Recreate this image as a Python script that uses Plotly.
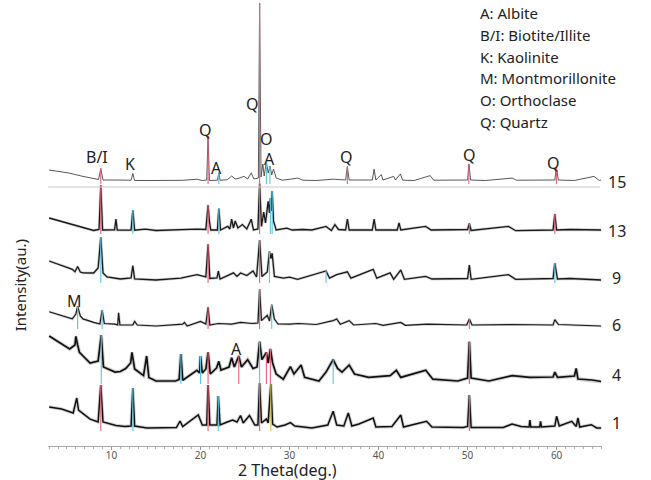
import plotly.graph_objects as go

# ---------------- data (2theta, intensity above own baseline, a.u.) ----------------
sample_names = ["15", "13", "9", "6", "4", "1"]
sample_offsets = [265, 215, 166, 120, 65, 18]

p15 = [(3.0, 11), (4.0, 9.5), (5.2, 8), (6.8, 4.6), (8.0, 2), (8.55, 1.5), (8.8, 12.5), (9.05, 1),
       (10.4, 1), (12.2, 0.8), (12.4, 7.5), (12.6, 0.5), (15, 0.5), (18, 0.7), (19.6, 1.8), (20.2, 0.5),
       (20.7, 1), (20.85, 45), (21.0, 0.5), (21.9, 0.8), (22.06, 8.2), (22.2, 0.8), (23.0, 1.2), (23.5, 5),
       (23.9, 2), (24.2, 2.5), (24.9, 4.6), (25.3, 2), (25.7, 8.2), (26.0, 2), (26.5, 3), (26.64, 178),
       (26.8, 4), (27.0, 17), (27.15, 5), (27.4, 19), (27.6, 8), (27.8, 15), (28.0, 6), (28.2, 12),
       (28.5, 3), (29.2, 0.8), (30.1, 1.8), (30.9, 2.9), (31.5, 0.8), (33, 0.5), (34.9, 1.8), (36.3, 1),
       (36.5, 14.6), (36.7, 1), (39.3, 1), (39.5, 11.8), (39.7, 1), (40.3, 6.4), (40.5, 1), (41.7, 4.6),
       (41.9, 1), (42.45, 7.1), (42.7, 0.8), (44, 0.5), (45.8, 5.4), (46.2, 0.8), (50.0, 1), (50.15, 17),
       (50.35, 1), (52, 0.5), (55, 2.9), (55.5, 0.8), (59.8, 1), (59.98, 13.6), (60.2, 1), (62, 0.5),
       (64.2, 4.6), (64.8, 0.5), (65.0, 1.0)]

p13 = [(3.0, 13), (4.0, 10.5), (4.8, 8.2), (5.6, 6.5), (6.4, 4.6), (7.2, 2.5), (8.0, 0.5), (8.6, 1.5),
       (8.8, 45.7), (9.0, 1), (10.0, 1), (10.35, 1.2), (10.5, 11.8), (10.65, 0.8), (12.2, 1), (12.4, 20.7),
       (12.6, 0.8), (13.8, 1.8), (15, 0.5), (17.8, 1.5), (19.6, 1.8), (20.6, 1.5), (20.85, 26), (21.0, 10),
       (21.15, 1), (21.9, 1), (22.06, 22.5), (22.25, 1), (23.06, 4.6), (23.3, 2), (23.5, 11.8), (23.7, 3),
       (23.9, 10), (24.2, 3), (24.7, 6.4), (25.2, 2), (25.7, 11.8), (25.95, 1), (26.45, 2), (26.64, 47.5),
       (26.85, 4.5), (27.1, 19), (27.3, 8), (27.6, 29.6), (27.75, 18), (27.85, 33), (27.95, 20), (28.05, 40),
       (28.2, 10), (28.5, 1), (29.7, 2.9), (30.3, 1), (31.5, 1.5), (32.5, 1), (34.1, 4.6), (34.7, 0.5),
       (35.1, 6.4), (35.5, 1.5), (36.3, 1), (36.5, 11.8), (36.7, 1), (39.3, 1), (39.5, 11.8), (39.7, 1),
       (42.1, 1), (42.3, 8.2), (42.5, 1), (45.3, 4.6), (45.9, 1), (50.0, 1.5), (50.2, 7.5), (50.4, 0.5),
       (54.6, 4.6), (55.4, 0.3), (59.6, 1), (59.8, 17), (60.0, 1), (61.5, 1.5), (64.5, 1), (65.0, 1)]

p9 = [(3.0, 19), (4.4, 14.3), (5.6, 10.7), (5.9, 8.2), (6.2, 13.5), (6.5, 8), (6.8, 7.1), (8.0, 7),
      (8.5, 12), (8.8, 43), (9.05, 7), (9.5, 3), (10.2, 1.8), (11, 1), (12.2, 2), (12.4, 14.3), (12.6, 1),
      (15, 0), (17.8, 1.8), (19.6, 5.4), (20.6, 3), (20.85, 35.7), (21.05, 1.5), (21.85, 2), (22.0, 9),
      (22.2, 1), (23.7, 7.1), (24.1, 3.6), (24.5, 7), (25.2, 4.5), (25.9, 9), (26.3, 3), (26.64, 40),
      (26.9, 3.6), (27.5, 8), (27.75, 28.6), (27.9, 21.4), (28.05, 26.8), (28.3, 3.6), (29.3, 1.8),
      (30, 2.8), (30.9, 0.7), (34.1, 9), (34.5, 1.8), (35.3, 5.4), (36.5, 8.2), (36.9, 1.8), (39.4, 10.7),
      (39.8, 1.8), (41.3, 7.1), (41.7, 0.7), (42.5, 10), (42.9, 0.7), (45.3, 3.6), (46, 1), (50.0, 1.5),
      (50.2, 15), (50.4, 0.7), (54.6, 5.4), (55.4, 0.7), (59.6, 1.5), (59.8, 17), (60.1, 1), (61.5, 1.5),
      (65.0, 0)]

p6 = [(3.0, 14.3), (4.4, 10.7), (5.6, 7.1), (6.0, 12), (6.2, 19.6), (6.5, 10), (6.8, 7.1), (8.0, 3.6),
      (8.7, 2), (8.95, 16), (9.2, 2.5), (10.4, 1.8), (10.7, 1), (10.8, 13.2), (10.95, 1), (12.4, 1),
      (12.6, 4.6), (12.9, 1), (15, 0), (18.0, 1.8), (18.2, 3.6), (18.5, 0), (20.0, 4.6), (20.6, 2),
      (20.85, 19), (21.05, 1), (22.0, 2.5), (23.5, 1.8), (24.5, 3.6), (25.8, 2.5), (26.45, 3), (26.64, 37),
      (26.85, 5.4), (27.5, 10.7), (27.75, 5), (28.0, 21.4), (28.3, 7), (28.7, 2), (30, 1.8), (31.0, 2.5),
      (33, 1.5), (34.9, 5.4), (35.3, 7), (35.7, 1.8), (36.7, 5.4), (37.2, 1), (39.7, 2.5), (40.5, 0.7),
      (42.5, 3.6), (43, 0.7), (45.5, 1.8), (49.9, 1), (50.2, 7.1), (50.5, 1), (55, 1.5), (59.6, 1),
      (59.8, 6.4), (60.2, 1.5), (62, 1), (65.0, 0)]

p4 = [(3.0, 45), (4.4, 37.5), (5.3, 32), (5.9, 36), (6.0, 44.6), (6.2, 36), (6.4, 28.6), (7.6, 17.9),
      (8.5, 20), (8.85, 46), (9.1, 14), (10.4, 8.9), (11.0, 9.5), (11.6, 12.5), (12.15, 18), (12.3, 28.6),
      (12.6, 12), (12.8, 10.7), (13.6, 5.4), (13.95, 25), (14.2, 3.6), (15, 0), (17.2, 0), (17.6, 1.5),
      (17.8, 26.8), (18.0, 0.7), (19.6, 10.7), (19.9, 8), (20.0, 25), (20.2, 8), (20.6, 12), (20.85, 28.6),
      (21.1, 7), (21.8, 13), (22.06, 19.6), (22.3, 11), (23.2, 14), (23.5, 23.2), (23.8, 14), (24.3, 25),
      (24.6, 14), (25.3, 21.4), (25.9, 12.5), (26.35, 14), (26.64, 39.3), (26.9, 21.4), (27.4, 28.6),
      (27.6, 18), (27.85, 32), (28.1, 18), (28.5, 7), (29.3, 1.8), (30.1, 14.3), (30.5, 7), (31.3, 16),
      (31.7, 3.6), (33.3, 0), (34.1, 8.9), (34.9, 21.4), (35.4, 12.5), (35.9, 8.9), (36.7, 16), (37.3, 7),
      (38.9, 3.6), (41.3, 5.4), (42.0, 10.7), (42.5, 3.6), (45.3, 10.7), (46.1, 1.8), (48.9, 0), (50.0, 3),
      (50.2, 39.3), (50.4, 3), (52.4, 0), (55.0, 5.4), (57, 3.6), (59.6, 4), (59.8, 8.9), (60.1, 3.6),
      (62.0, 5), (62.2, 12.5), (62.4, 2), (64, 1), (65.0, -0.5)]

p1 = [(3.0, 21), (4.4, 19), (5.7, 15), (5.95, 24), (6.1, 30), (6.3, 18), (7.6, 8.9), (8.5, 6), (8.8, 43),
      (9.05, 6), (10.5, 2.5), (11.5, 1.5), (12.2, 2), (12.4, 40), (12.6, 2), (14, 0), (17.3, 0.5), (17.7, 7),
      (18.0, 1.5), (19.75, 13), (20.2, 3), (20.7, 3), (20.85, 43), (21.05, 3), (21.85, 3), (22.0, 32),
      (22.2, 3), (23.0, 6), (23.6, 8), (24.1, 6), (24.5, 12.5), (24.8, 5), (25.5, 12.5), (26.1, 3),
      (26.45, 3), (26.64, 45), (26.85, 5), (27.4, 9), (27.6, 5), (27.9, 44), (28.1, 4), (28.6, 1),
      (29.5, 3), (30.1, 5.4), (30.6, 2), (32.5, 0), (34.3, 3), (34.9, 16.7), (35.3, 3), (36.1, 2),
      (36.6, 15), (37.0, 2), (37.8, 4), (39.4, 10), (39.7, 1), (41.5, 1.5), (42.5, 13), (42.8, 1),
      (45.4, 6.7), (46, 1), (49.5, 0.5), (50.0, 1.5), (50.2, 33), (50.4, 0.5), (54, 0.5), (55.0, 4),
      (56, 1.5), (56.9, 1), (57.0, 8), (57.1, 1), (58.1, 1), (58.2, 6.7), (58.3, 1), (59.8, 2), (60.0, 11.7),
      (60.3, 2), (61.7, 6.7), (62.2, 1.5), (62.4, 10), (62.6, 1), (63.9, 3.3), (64.5, 0), (65.0, 0)]

patterns = [p15, p13, p9, p6, p4, p1]

# reference stick markers (2theta, phase colour key) for each sample
sticks15 = [(8.8, "R"), (20.85, "R"), (22.06, "C"), (26.64, "R"), (27.4, "C"), (27.8, "C"), (36.5, "R"),
            (50.15, "R"), (59.98, "R")]
sticks13 = [(8.8, "R"), (12.4, "C"), (20.85, "R"), (22.06, "C"), (26.64, "R"), (27.85, "C"), (28.05, "C"),
            (50.2, "R"), (59.8, "R")]
sticks9 = [(8.8, "C"), (20.85, "R"), (26.64, "R"), (27.75, "C"), (34.1, "C"), (59.8, "C")]
sticks6 = [(6.2, "C"), (8.95, "C"), (20.85, "R"), (26.64, "R"), (28.0, "C"), (50.2, "R")]
sticks4 = [(8.85, "C"), (17.8, "C"), (20.0, "C"), (20.85, "R"), (24.3, "R"), (26.64, "C"), (27.4, "R"),
           (27.85, "R"), (34.9, "C"), (50.2, "R")]
sticks1 = [(8.8, "R"), (12.4, "C"), (20.85, "R"), (22.0, "C"), (26.64, "R"), (27.9, "Y"), (50.2, "R")]
sticks = [sticks15, sticks13, sticks9, sticks6, sticks4, sticks1]

legend_lines = ["A: Albite", "B/I: Biotite/Illite", "K: Kaolinite", "M: Montmorillonite",
                "O: Orthoclase", "Q: Quartz"]

# ---------------- figure ----------------
stick_colors = {"R": "#e8607a", "C": "#5ec4e0", "Y": "#d9c23a", "B": "#3e5cc0"}
line_widths = [0.9, 1.3, 1.3, 1.2, 1.7, 1.5]
halo_widths = [0, 2.8, 2.8, 2.6, 3.8, 3.4]
line_colors = ["#444444", "#1a1a1a", "#1a1a1a", "#1a1a1a", "#111111", "#111111"]
FONT = "Noto Sans"

fig = go.Figure()
for pat, off, lw, hw, lc in zip(patterns, sample_offsets, line_widths, halo_widths, line_colors):
    xs = [p[0] for p in pat]
    ys = [p[1] + off for p in pat]
    if hw > 0:
        fig.add_trace(go.Scatter(x=xs, y=ys, mode="lines", line=dict(color="rgba(0,0,0,0.18)", width=hw),
                                 hoverinfo="skip", showlegend=False))
    fig.add_trace(go.Scatter(x=xs, y=ys, mode="lines", line=dict(color=lc, width=lw),
                             showlegend=False))

for pat, off, st in zip(patterns, sample_offsets, sticks):
    lookup = {p[0]: p[1] for p in pat}
    for key in "RCYB":
        sx, sy = [], []
        for th, c in st:
            if c != key:
                continue
            sx += [th, th, None]
            sy += [off - 3, off + lookup[th], None]
        if sx:
            fig.add_trace(go.Scatter(x=sx, y=sy, mode="lines", line=dict(color=stick_colors[key], width=1.1),
                                     hoverinfo="skip", showlegend=False))

# separator under top pattern
fig.add_shape(type="line", x0=2.9, x1=64.9, y0=259, y1=259, xref="x", yref="y",
              line=dict(color="#c8c8c8", width=1))

ann = []
# sample labels on the right
for name, yv in zip(sample_names, [264, 215, 168, 121, 71, 23]):
    ann.append(dict(text=name, x=1.027, xref="paper", y=yv, yref="y", showarrow=False,
                    xanchor="center", yanchor="middle", font=dict(size=16, color="#222", family=FONT)))
# phase labels
phase_labels = [("B/I", 8.37, 289), ("K", 12.08, 282), ("Q", 20.6, 316), ("A", 21.85, 278),
                ("Q", 25.8, 342), ("O", 27.36, 307), ("A", 27.8, 287), ("Q", 36.45, 289),
                ("Q", 50.2, 291), ("Q", 59.7, 283), ("M", 5.8, 145), ("A", 24.0, 97)]
for t, xv, yv in phase_labels:
    ann.append(dict(text=t, x=xv, y=yv, xref="x", yref="y", showarrow=False,
                    font=dict(size=16, color="#222", family=FONT)))
# legend text
for i, t in enumerate(legend_lines):
    ann.append(dict(text=t, x=0.776, xref="paper", y=433 - i * 21.8, yref="y", showarrow=False,
                    xanchor="left", yanchor="middle", font=dict(size=15, color="#222", family=FONT)))
# axis titles
ann.append(dict(text="2 Theta(deg.)", x=0.433, xref="paper", y=-0.054, yref="paper", showarrow=False,
                xanchor="center", yanchor="middle", font=dict(size=16, color="#222", family=FONT)))
ann.append(dict(text="Intensity(au.)", x=-0.05, xref="paper", y=0.361, yref="paper", showarrow=False,
                textangle=-90, xanchor="center", yanchor="middle",
                font=dict(size=15, color="#222", family=FONT)))

fig.update_layout(
    width=651, height=480,
    margin=dict(l=48, r=49, t=0, b=34),
    paper_bgcolor="white", plot_bgcolor="white",
    annotations=ann,
    xaxis=dict(range=[2.87, 65.1], showline=True, linecolor="#aaaaaa", linewidth=1,
               ticks="outside", ticklen=3, tickcolor="#999999", tick0=0, dtick=10,
               ticklabelstandoff=-3,
               tickfont=dict(size=10, color="#555", family=FONT),
               minor=dict(ticks="outside", ticklen=2, dtick=1, tickcolor="#aaaaaa"),
               showgrid=False, zeroline=False, fixedrange=True),
    yaxis=dict(range=[0, 446], visible=False, fixedrange=True),
)

fig.write_html("out.html", config={"displayModeBar": False},
               post_script="document.body.style.margin='0';")
